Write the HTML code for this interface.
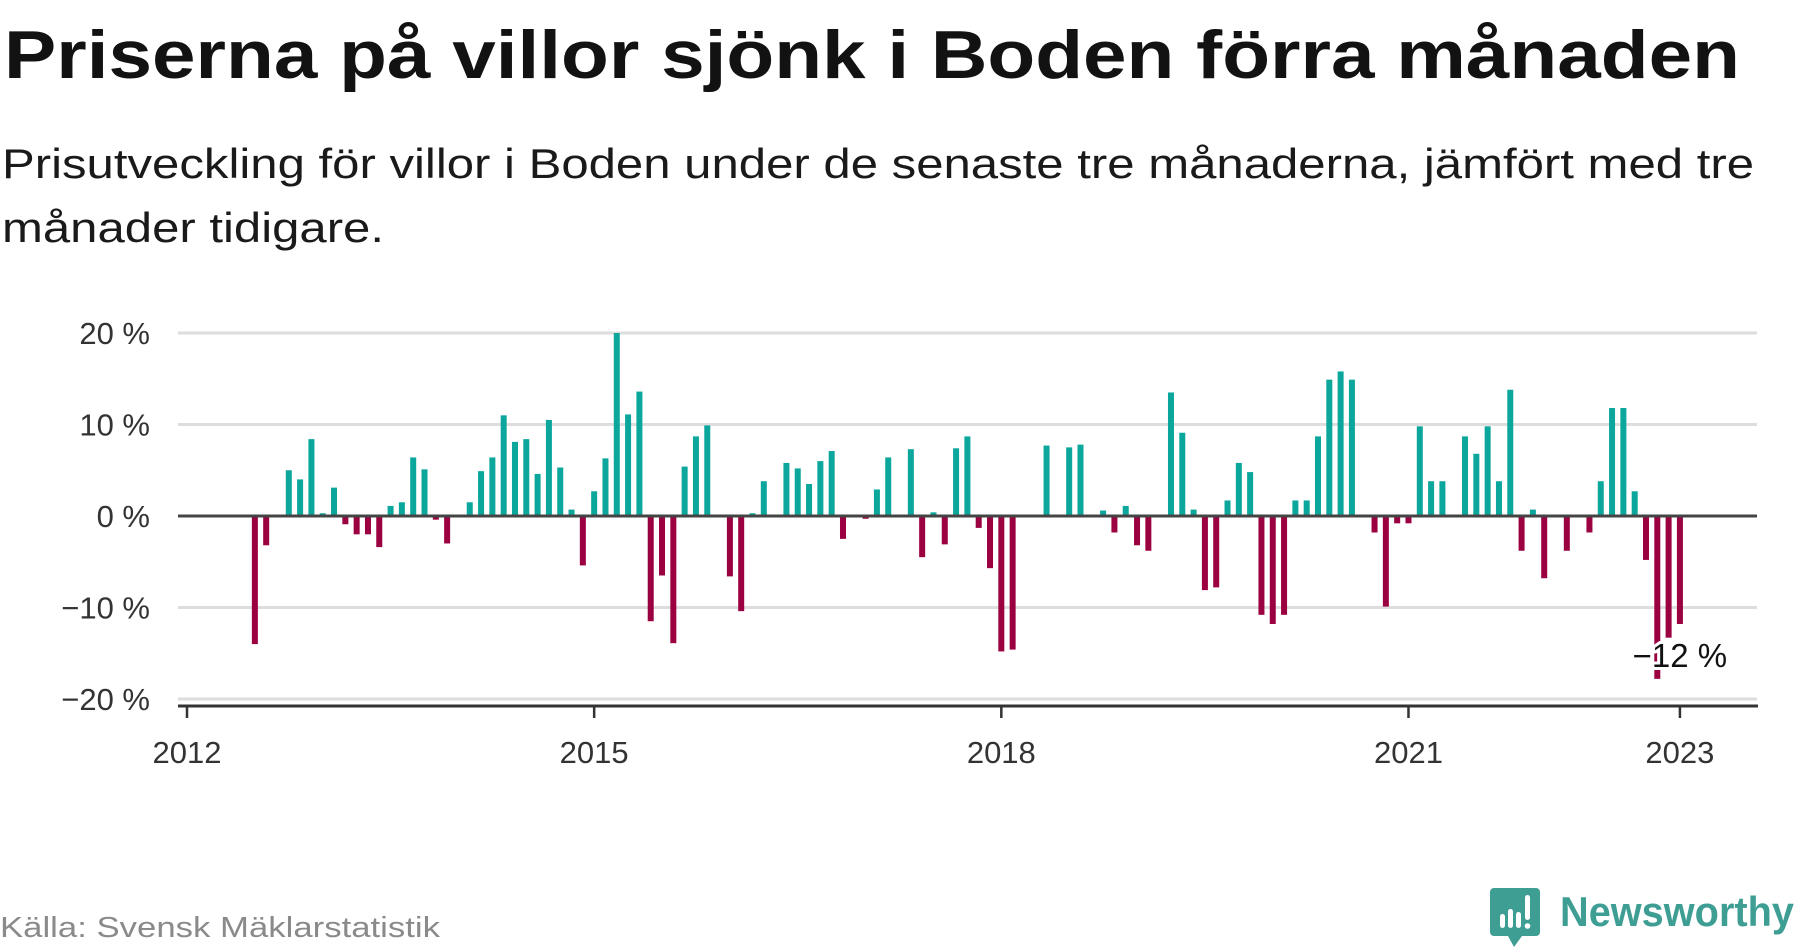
<!DOCTYPE html>
<html><head><meta charset="utf-8">
<style>
html,body{margin:0;padding:0;background:#fff;}
svg{display:block;font-family:"Liberation Sans","DejaVu Sans",sans-serif;}
</style></head>
<body>
<svg id="chart" width="1800" height="948" viewBox="0 0 1800 948" xmlns="http://www.w3.org/2000/svg">
  <text x="4" y="78" font-size="68" font-weight="bold" fill="#121212" textLength="1736" lengthAdjust="spacingAndGlyphs">Priserna på villor sjönk i Boden förra månaden</text>
  <text x="2" y="178" font-size="42" fill="#1a1a1a" textLength="1752" lengthAdjust="spacingAndGlyphs">Prisutveckling för villor i Boden under de senaste tre månaderna, jämfört med tre</text>
  <text x="2" y="242" font-size="42" fill="#1a1a1a" textLength="382" lengthAdjust="spacingAndGlyphs">månader tidigare.</text>
  <g id="grid"></g>
  <g id="ylabels"></g>
  <g id="bars"></g>
  <g id="xaxis"></g>
  <g id="annot"></g>
  <text x="0" y="937" font-size="29" fill="#8a8a8a" textLength="440" lengthAdjust="spacingAndGlyphs">Källa: Svensk Mäklarstatistik</text>
  <g>
    <path d="M1494 888 h42 a4 4 0 0 1 4 4 v40 a4 4 0 0 1 -4 4 h-14 l-8 11 l-6 -11 h-14 a4 4 0 0 1 -4 -4 v-40 a4 4 0 0 1 4 -4z" fill="#3f9e94"/>
    <rect x="1500" y="914" width="5" height="14" rx="2.5" fill="#fff"/>
    <rect x="1508" y="909" width="5" height="19" rx="2.5" fill="#fff"/>
    <rect x="1516" y="912" width="5" height="16" rx="2.5" fill="#fff"/>
    <rect x="1525" y="895" width="5" height="25" rx="2.5" fill="#fff"/>
    <circle cx="1527.5" cy="926" r="2.8" fill="#fff"/>
    <text x="1560" y="926" font-size="42" font-weight="bold" fill="#3f9e94" textLength="234" lengthAdjust="spacingAndGlyphs">Newsworthy</text>
  </g>
</svg>
<script>
// monthly values starting Jan 2012 (null = no bar)
const values = [
null,null,null,null,null,null,-14.0,-3.2,null,5.0,4.0,8.4,
0.3,3.1,-0.9,-2.0,-2.0,-3.4,1.1,1.5,6.4,5.1,-0.4,-3.0,
null,1.5,4.9,6.4,11.0,8.1,8.4,4.6,10.5,5.3,0.7,-5.4,
2.7,6.3,20.0,11.1,13.6,-11.5,-6.5,-13.9,5.4,8.7,9.9,null,
-6.6,-10.4,0.3,3.8,null,5.8,5.2,3.5,6.0,7.1,-2.5,null,
-0.3,2.9,6.4,null,7.3,-4.5,0.4,-3.1,7.4,8.7,-1.3,-5.7,
-14.8,-14.6,null,null,7.7,null,7.5,7.8,null,0.6,-1.8,1.1,
-3.2,-3.8,null,13.5,9.1,0.7,-8.1,-7.8,1.7,5.8,4.8,-10.8,
-11.8,-10.8,1.7,1.7,8.7,14.9,15.8,14.9,null,-1.8,-9.9,-0.8,
-0.8,9.8,3.8,3.8,null,8.7,6.8,9.8,3.8,13.8,-3.8,0.7,
-6.8,null,-3.8,null,-1.8,3.8,11.8,11.8,2.7,-4.8,-17.8,-13.3,
-11.8
];
const yTicks = [20, 10, 0, -10, -20];
const yTickLabels = ["20 %", "10 %", "0 %", "\u221210 %", "\u221220 %"];
const xTickMonths = [0, 36, 72, 108, 132];
const xTickLabels = ["2012", "2015", "2018", "2021", "2023"];
const lastLabel = "\u221212 %";

const NS = "http://www.w3.org/2000/svg";
const X0 = 187, MONTH = 11.31, Y0 = 516, PER = 9.15, XR = 1757;
const xs = m => X0 + m * MONTH;
const ys = v => Y0 - v * PER;
function mk(tag, attrs, parent){ const e=document.createElementNS(NS,tag); for(const k in attrs) e.setAttribute(k,attrs[k]); parent.appendChild(e); return e; }

const grid = document.getElementById('grid');
const yl = document.getElementById('ylabels');
yTicks.forEach((t,i)=>{
  if (t !== 0) {
    const l = mk('line',{x1:178,x2:XR,y1:ys(t),y2:ys(t),stroke:'#dddddd','stroke-width':3},grid);
    
    
  }
  const tx = mk('text',{x:150,y:ys(t)+11,'font-size':31,fill:'#333','text-anchor':'end'},yl);
  tx.textContent = yTickLabels[i];
  
  
});

const bars = document.getElementById('bars');
values.forEach((v,m)=>{
  if (v === null) return;
  const x = xs(m) - 3;
  const r = mk('rect',{x:x, y: v>=0 ? ys(v) : Y0, width:6, height:Math.abs(v)*PER, fill: v>=0 ? '#0ba69c' : '#9b0040'},bars);
  
  
});

const zl = mk('line',{x1:178,x2:XR,y1:Y0,y2:Y0,stroke:'#444','stroke-width':3},bars);



const xa = document.getElementById('xaxis');
const al = mk('line',{x1:178,x2:XR+1,y1:706,y2:706,stroke:'#333','stroke-width':3},xa);


xTickMonths.forEach((m,i)=>{
  const tk = mk('line',{x1:xs(m),x2:xs(m),y1:706,y2:718,stroke:'#333','stroke-width':2.5},xa);
  
  
  const tx = mk('text',{x:xs(m),y:763,'font-size':31,fill:'#333','text-anchor':'middle'},xa);
  tx.textContent = xTickLabels[i];
  
  
});

const an = document.getElementById('annot');
const lastM = values.length - 1;
const at = mk('text',{x:xs(lastM),y:667,'font-size':33,fill:'#111','text-anchor':'middle',stroke:'#fff','stroke-width':6,'paint-order':'stroke','stroke-linejoin':'round'},an);
at.textContent = lastLabel;


</script>
</body></html>
